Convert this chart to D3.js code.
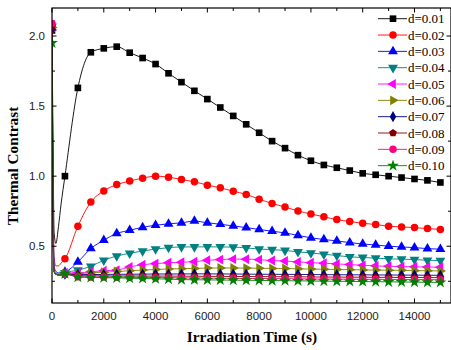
<!DOCTYPE html>
<html>
<head>
<meta charset="utf-8">
<script src="https://cdn.jsdelivr.net/npm/d3@7"></script>
<style>
  body { margin: 0; background: #fff; }
  svg { display: block; }
</style>
</head>
<body>
<div id="chart"></div>
<script>
// marker times (s)
const times = [0, 500, 1000, 1500, 2000, 2500, 3000, 3500, 4000, 4500, 5000, 5500, 6000, 6500, 7000, 7500,
  8000, 8500, 9000, 9500, 10000, 10500, 11000, 11500, 12000, 12500, 13000, 13500, 14000, 14500, 15000];
// unmarked points of the fast initial drop
const earlyTimes = [40, 80, 150, 250, 350];

const labels = ["d=0.01", "d=0.02", "d=0.03", "d=0.04", "d=0.05", "d=0.06", "d=0.07", "d=0.08", "d=0.09", "d=0.10"];

const d01 = [2.04, 1.0, 1.63, 1.884, 1.912, 1.924, 1.881, 1.843, 1.80, 1.734, 1.671, 1.609, 1.55, 1.49, 1.43, 1.37,
  1.31, 1.25, 1.20, 1.15, 1.11, 1.08, 1.06, 1.04, 1.02, 1.01, 1.0, 0.99, 0.98, 0.97, 0.955];
const d02 = [2.05, 0.41, 0.643, 0.815, 0.895, 0.94, 0.965, 0.986, 1.0, 0.993, 0.976, 0.96, 0.936, 0.917, 0.893, 0.87,
  0.836, 0.805, 0.78, 0.752, 0.73, 0.71, 0.69, 0.676, 0.664, 0.655, 0.643, 0.638, 0.633, 0.626, 0.62];
const d03 = [2.06, 0.316, 0.388, 0.484, 0.543, 0.591, 0.614, 0.635, 0.65, 0.66, 0.667, 0.68, 0.667, 0.657, 0.645, 0.633,
  0.62, 0.607, 0.595, 0.577, 0.56, 0.548, 0.538, 0.526, 0.516, 0.509, 0.50, 0.495, 0.49, 0.483, 0.479];
const d04 = [2.07, 0.31, 0.33, 0.357, 0.40, 0.43, 0.45, 0.466, 0.48, 0.49, 0.495, 0.495, 0.496, 0.495, 0.494, 0.488,
  0.48, 0.476, 0.47, 0.46, 0.452, 0.443, 0.434, 0.424, 0.42, 0.415, 0.41, 0.408, 0.405, 0.40, 0.398];
const d05 = [2.08, 0.31, 0.31, 0.318, 0.325, 0.33, 0.352, 0.368, 0.376, 0.382, 0.386, 0.39, 0.40, 0.405, 0.408, 0.408,
  0.404, 0.398, 0.395, 0.388, 0.383, 0.379, 0.374, 0.369, 0.364, 0.36, 0.357, 0.355, 0.353, 0.352, 0.35];
const d06 = [2.06, 0.305, 0.305, 0.31, 0.315, 0.32, 0.325, 0.33, 0.334, 0.338, 0.34, 0.342, 0.344, 0.345, 0.345, 0.344,
  0.343, 0.342, 0.341, 0.339, 0.337, 0.336, 0.334, 0.333, 0.331, 0.33, 0.329, 0.328, 0.326, 0.325, 0.324];
const d07 = [2.05, 0.30, 0.298, 0.298, 0.299, 0.30, 0.30, 0.301, 0.302, 0.302, 0.302, 0.303, 0.303, 0.302, 0.302, 0.301,
  0.30, 0.30, 0.299, 0.299, 0.298, 0.297, 0.297, 0.296, 0.296, 0.295, 0.295, 0.294, 0.294, 0.293, 0.293];
const d08 = [2.07, 0.30, 0.29, 0.289, 0.288, 0.288, 0.288, 0.287, 0.287, 0.287, 0.286, 0.286, 0.285, 0.285, 0.284, 0.284,
  0.283, 0.283, 0.282, 0.282, 0.281, 0.28, 0.28, 0.279, 0.279, 0.278, 0.278, 0.277, 0.277, 0.276, 0.276];
const d09 = [2.09, 0.30, 0.283, 0.281, 0.28, 0.279, 0.278, 0.277, 0.276, 0.275, 0.274, 0.273, 0.273, 0.272, 0.271, 0.27,
  0.27, 0.269, 0.268, 0.268, 0.267, 0.266, 0.266, 0.265, 0.264, 0.264, 0.263, 0.263, 0.262, 0.262, 0.261];
const d10 = [1.95, 0.305, 0.28, 0.277, 0.276, 0.274, 0.272, 0.27, 0.268, 0.265, 0.262, 0.261, 0.26, 0.259, 0.258, 0.257,
  0.256, 0.255, 0.254, 0.253, 0.252, 0.251, 0.25, 0.249, 0.248, 0.247, 0.246, 0.245, 0.244, 0.243, 0.242];

// values at earlyTimes
const early = [
  [1.25, 0.6, 0.52, 0.64, 0.8],
  [1.0, 0.42, 0.36, 0.36, 0.38],
  [0.9, 0.36, 0.32, 0.31, 0.31],
  [0.8, 0.34, 0.31, 0.30, 0.30],
  [0.75, 0.33, 0.30, 0.30, 0.30],
  [0.7, 0.32, 0.30, 0.30, 0.30],
  [0.7, 0.32, 0.30, 0.295, 0.295],
  [0.7, 0.32, 0.30, 0.295, 0.295],
  [0.7, 0.32, 0.30, 0.295, 0.295],
  [0.7, 0.32, 0.30, 0.295, 0.30]
];

const series = [d01, d02, d03, d04, d05, d06, d07, d08, d09, d10];
const colors = ["#000000", "#ff0000", "#0000ff", "#008080", "#ff00ff", "#808000", "#000080", "#800000", "#ff0080", "#008000"];

const xTicks = [0, 2000, 4000, 6000, 8000, 10000, 12000, 14000];
const yTicks = [0.5, 1.0, 1.5, 2.0];

const W = 451, H = 350;
const mLeft = 52, mRight = 451, mTop = 8, mBottom = 303;

const x = d3.scaleLinear().domain([0, 15410]).range([mLeft, mRight]);
const y = d3.scaleLinear().domain([0.095, 2.2]).range([mBottom, mTop]);

const svg = d3.select("#chart").append("svg").attr("width", W).attr("height", H);

svg.append("defs").append("clipPath").attr("id", "plotclip")
  .append("rect").attr("x", mLeft).attr("y", mTop)
  .attr("width", mRight - mLeft).attr("height", mBottom - mTop);

// pentagon path for d=0.08
const pentagon = {
  draw(ctx, size) {
    const r = Math.sqrt(size / 2.378);
    for (let i = 0; i < 5; i++) {
      const a = -Math.PI / 2 + i * 2 * Math.PI / 5;
      if (i === 0) ctx.moveTo(r * Math.cos(a), r * Math.sin(a));
      else ctx.lineTo(r * Math.cos(a), r * Math.sin(a));
    }
    ctx.closePath();
  }
};
const shapes = [
  {t: d3.symbolSquare, s: 44, r: 0},
  {t: d3.symbolCircle, s: 44, r: 0},
  {t: d3.symbolTriangle, s: 42, r: 0},
  {t: d3.symbolTriangle, s: 42, r: 180},
  {t: d3.symbolTriangle, s: 42, r: -90},
  {t: d3.symbolTriangle, s: 42, r: 90},
  {t: d3.symbolDiamond, s: 36, r: 0},
  {t: pentagon, s: 40, r: 0},
  {t: d3.symbolCircle, s: 44, r: 0},
  {t: d3.symbolStar, s: 44, r: 0}
];

const plot = svg.append("g").attr("clip-path", "url(#plotclip)");

const line = d3.line().x(d => x(d[0])).y(d => y(d[1])).curve(d3.curveMonotoneX);

series.forEach((vals, i) => {
  const pts = [[times[0], vals[0]]];
  earlyTimes.forEach((t, j) => pts.push([t, early[i][j]]));
  for (let k = 1; k < times.length; k++) pts.push([times[k], vals[k]]);
  plot.append("path")
    .attr("d", line(pts))
    .attr("fill", "none")
    .attr("stroke", colors[i])
    .attr("stroke-width", 0.9);
  const sym = d3.symbol().type(shapes[i].t).size(shapes[i].s);
  plot.selectAll(null)
    .data(vals)
    .enter().append("path")
    .attr("d", sym)
    .attr("transform", (d, k) => "translate(" + x(times[k]) + "," + y(d) + ") rotate(" + shapes[i].r + ")")
    .attr("fill", colors[i]);
});

// frame
svg.append("rect")
  .attr("x", mLeft).attr("y", mTop)
  .attr("width", mRight - mLeft).attr("height", mBottom - mTop)
  .attr("fill", "none").attr("stroke", "#000").attr("stroke-width", 1.2);

// inward ticks on all four sides
const xMinor = [1000, 3000, 5000, 7000, 9000, 11000, 13000, 15000];
const yMinor = [0.25, 0.75, 1.25, 1.75];
const tk = svg.append("g").attr("stroke", "#000").attr("stroke-width", 1);
xTicks.concat(xMinor).forEach(t => {
  const len = xTicks.includes(t) ? 4.5 : 3;
  tk.append("line").attr("x1", x(t)).attr("x2", x(t)).attr("y1", mBottom).attr("y2", mBottom - len);
  tk.append("line").attr("x1", x(t)).attr("x2", x(t)).attr("y1", mTop).attr("y2", mTop + len);
});
yTicks.concat(yMinor).forEach(v => {
  const len = yTicks.includes(v) ? 4.5 : 3;
  tk.append("line").attr("x1", mLeft).attr("x2", mLeft + len).attr("y1", y(v)).attr("y2", y(v));
  tk.append("line").attr("x1", mRight).attr("x2", mRight - len).attr("y1", y(v)).attr("y2", y(v));
});

// tick labels
svg.selectAll(null).data(xTicks).enter().append("text")
  .attr("x", d => x(d)).attr("y", 319.5)
  .attr("text-anchor", "middle")
  .attr("font-family", "Liberation Sans, Arial, sans-serif")
  .attr("font-size", 11.5).attr("fill", "#222")
  .text(d => d);
svg.selectAll(null).data(yTicks).enter().append("text")
  .attr("x", 45).attr("y", d => y(d) + 4)
  .attr("text-anchor", "end")
  .attr("font-family", "Liberation Sans, Arial, sans-serif")
  .attr("font-size", 11.5).attr("fill", "#222")
  .text(d => d.toFixed(1));

// axis titles
svg.append("text")
  .attr("x", 252).attr("y", 342)
  .attr("text-anchor", "middle")
  .attr("font-family", "Liberation Serif, Times New Roman, serif")
  .attr("font-weight", "bold").attr("font-size", 15.3)
  .text("Irradiation Time (s)");
svg.append("text")
  .attr("transform", "translate(18,166) rotate(-90)")
  .attr("text-anchor", "middle")
  .attr("font-family", "Liberation Serif, Times New Roman, serif")
  .attr("font-weight", "bold").attr("font-size", 15.3)
  .text("Thermal Contrast");

// legend
const lg = svg.append("g");
labels.forEach((lab, i) => {
  const ly = 18.7 + i * 16.33;
  lg.append("line").attr("x1", 378).attr("x2", 407).attr("y1", ly).attr("y2", ly)
    .attr("stroke", colors[i]).attr("stroke-width", 0.9);
  lg.append("path")
    .attr("d", d3.symbol().type(shapes[i].t).size(shapes[i].s))
    .attr("transform", "translate(393," + ly + ") rotate(" + shapes[i].r + ")")
    .attr("fill", colors[i]);
  lg.append("text")
    .attr("x", 408).attr("y", ly + 4.5)
    .attr("font-family", "Liberation Serif, Times New Roman, serif")
    .attr("font-size", 13)
    .text(lab);
});
</script>
</body>
</html>
